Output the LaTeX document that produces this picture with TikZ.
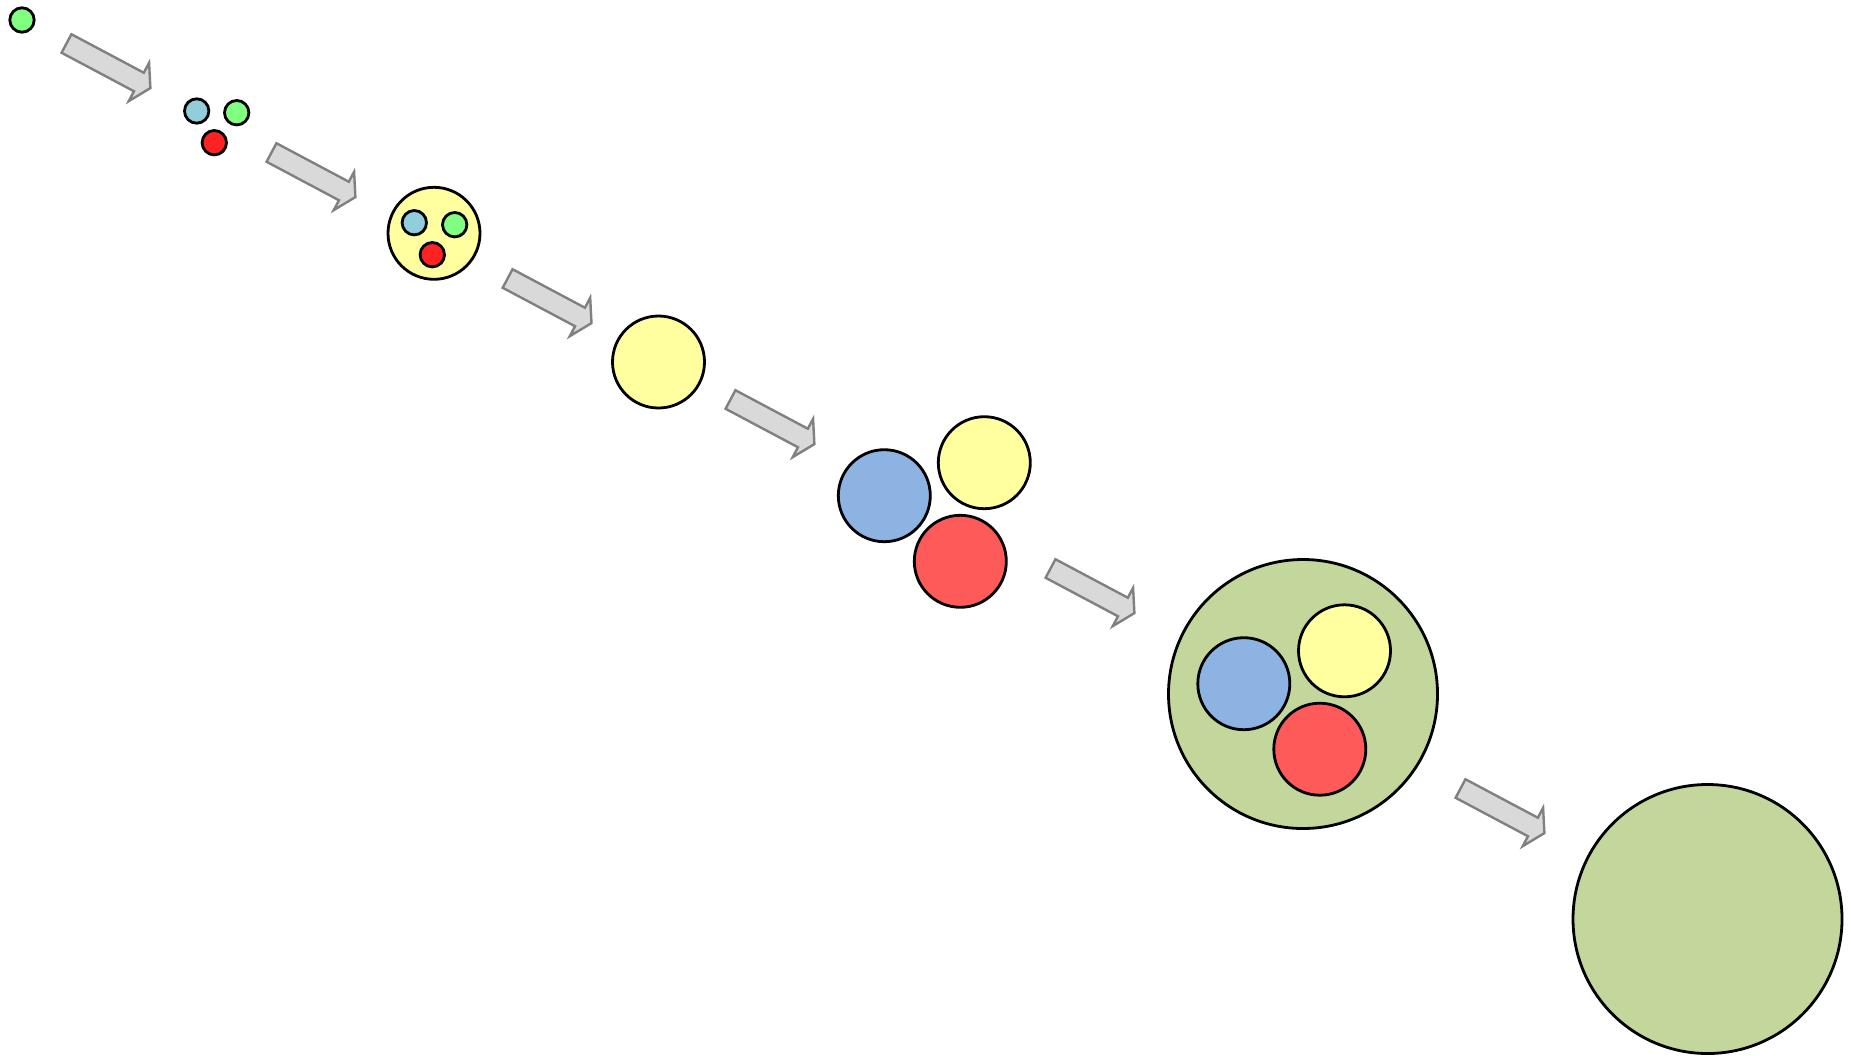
\documentclass[tikz,border=0pt]{standalone}
\usetikzlibrary{positioning}
\definecolor{cgreen}{HTML}{80FF80}
\definecolor{cblue}{HTML}{92CDDC}
\definecolor{cred}{HTML}{FF2222}
\definecolor{cyellow}{HTML}{FFFF9F}
\definecolor{cbigblue}{HTML}{8DB3E2}
\definecolor{cbigred}{HTML}{FF5A5A}
\definecolor{colive}{HTML}{C3D69B}
\definecolor{afill}{HTML}{D9D9D9}
\definecolor{aline}{HTML}{808080}
\tikzset{
  ball/.style={circle, draw=black, line width=1.4pt, inner sep=0pt, outer sep=0pt},
  smallball/.style={ball, minimum size=12.2pt},
  midball/.style={ball, minimum size=46pt},
  bigball/.style={ball, minimum size=134.5pt},
  arrowstyle/.style={fill=afill, draw=aline, line width=1.2pt, line join=miter},
  blockarrow/.pic={\draw[arrowstyle] (0,-10.5) -- (82,-10.5) -- (82,-21.7) -- (95,0) -- (82,21.7) -- (82,10.5) -- (0,10.5) -- cycle;}
}
\begin{document}
\begin{tikzpicture}[x=0.5pt,y=-0.5pt]
\useasboundingbox (0,0) rectangle (1851,1055);
% stage 1
\node[smallball, fill=cgreen] (g1) at (22,20) {};
% stage 2
\node[smallball, fill=cblue] (b2) at (196.7,111) {};
\node[smallball, fill=cgreen] (gr2) at (236.7,112.7) {};
\node[smallball, fill=cred] (r2) at (214.3,142.7) {};
% stage 3
\node[midball, fill=cyellow] (y3) at (434,233.3) {};
\node[smallball, fill=cblue] (b3) at (414.3,222.7) {};
\node[smallball, fill=cgreen] (gr3) at (454.7,224.7) {};
\node[smallball, fill=cred] (r3) at (432.3,254.7) {};
% stage 4
\node[midball, fill=cyellow] (y4) at (658.5,362) {};
% stage 5
\node[midball, fill=cbigblue] (b5) at (884.3,495.7) {};
\node[midball, fill=cyellow] (y5) at (984.3,462.7) {};
\node[midball, fill=cbigred] (r5) at (960.3,561.3) {};
% stage 6
\node[bigball, fill=colive] (o6) at (1303,694) {};
\node[midball, fill=cbigblue] (b6) at (1243.8,683.7) {};
\node[midball, fill=cyellow] (y6) at (1344.5,650.8) {};
\node[midball, fill=cbigred] (r6) at (1319.8,749.2) {};
% stage 7
\node[bigball, fill=colive] (o7) at (1707.5,919) {};
% arrows
\pic[rotate=-28] at (66.5,43.5) {blockarrow};
\pic[rotate=-28] at (271.5,152.5) {blockarrow};
\pic[rotate=-28] at (507.6,278.5) {blockarrow};
\pic[rotate=-28] at (730.5,399.5) {blockarrow};
\pic[rotate=-28] at (1050.5,568.5) {blockarrow};
\pic[rotate=-28] at (1460.5,788.5) {blockarrow};
\end{tikzpicture}
\end{document}
